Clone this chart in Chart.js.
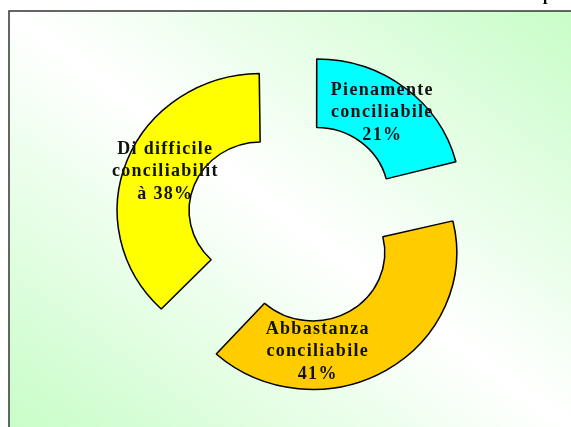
<!DOCTYPE html>
<html>
<head>
<meta charset="utf-8">
<script src="https://cdn.jsdelivr.net/npm/chart.js@4.4.0/dist/chart.umd.min.js"></script>
<style>
  html, body { margin: 0; padding: 0; background: #fff; }
  canvas { display: block; }
</style>
</head>
<body>
<canvas id="ciambella" width="571" height="427"></canvas>
<script>
// dati del grafico (percentuali)
const categorie = ["Pienamente conciliabile", "Abbastanza conciliabile", "Di difficile conciliabilità"];
const percentuali = [21, 41, 38];
const colori = ["#00ffff", "#ffcc00", "#ffff00"];
// testo delle etichette, spezzato come nell'originale ({v} = valore)
const righeEtichette = [
  ["Pienamente", "conciliabile", "{v}%"],
  ["Abbastanza", "conciliabile", "{v}%"],
  ["Di difficile", "conciliabilit", "à {v}%"],
];

const ESPLOSO = 35; // spostamento delle fette in px
const RAGGIO = 140;
const SCALA = [1.028, 0.978]; // la ciambella originale è un po' ellittica

// sfondo con gradiente diagonale e cornice
const sfondo = {
  id: "sfondo",
  beforeDraw(chart) {
    const ctx = chart.ctx;
    const x0 = 9, y0 = 11, w = chart.width - x0, h = chart.height - y0;
    ctx.save();
    ctx.fillStyle = "#ffffff";
    ctx.fillRect(0, 0, chart.width, chart.height);
    ctx.save();
    ctx.translate(x0, y0);
    ctx.scale(w, h);
    const g = ctx.createLinearGradient(1, 0, 0, 1);
    g.addColorStop(0, "#c8fdc8");
    g.addColorStop(0.5, "#ffffff");
    g.addColorStop(1, "#c8fdc8");
    ctx.fillStyle = g;
    ctx.fillRect(0, 0, 1, 1);
    ctx.restore();
    ctx.strokeStyle = "#333";
    ctx.lineWidth = 1.5;
    ctx.beginPath();
    ctx.moveTo(x0, chart.height);
    ctx.lineTo(x0, y0);
    ctx.lineTo(chart.width, y0);
    ctx.stroke();
    // titolo tagliato in alto
    ctx.fillStyle = "#000";
    ctx.font = "bold 16px 'Liberation Serif', serif";
    ctx.textAlign = "left";
    ctx.textBaseline = "alphabetic";
    ctx.fillText("p", 543, 0);
    ctx.restore();
  }
};

// l'offset di Chart.js ingrandisce alcune fette: lo compenso
const correggiRaggio = {
  id: "correggiRaggio",
  afterDatasetUpdate(chart, args) {
    const meta = chart.getDatasetMeta(args.index);
    meta.data.forEach(arc => {
      const off = (arc.options.offset || 0) / 4;
      const fix = 1 - Math.sin(Math.min(Math.PI, arc.circumference));
      arc.$rMedio = (arc.innerRadius + arc.outerRadius) / 2;
      arc.outerRadius -= off * fix;
      arc.innerRadius -= off * fix;
    });
  },
  beforeDatasetsDraw(chart) {
    const ctx = chart.ctx;
    const a = chart.chartArea;
    const cx = (a.left + a.right) / 2, cy = (a.top + a.bottom) / 2;
    ctx.save();
    ctx.translate(cx, cy);
    ctx.scale(SCALA[0], SCALA[1]);
    ctx.translate(-cx, -cy);
  },
  afterDatasetsDraw(chart) {
    chart.ctx.restore();
  }
};

// etichette dentro le fette
const spostamenti = [[1, 0], [-49, 8], [0, 0]];
const etichette = {
  id: "etichette",
  afterDatasetsDraw(chart) {
    const ctx = chart.ctx;
    const meta = chart.getDatasetMeta(0);
    ctx.save();
    ctx.font = "bold 18px 'Liberation Serif', 'Times New Roman', serif";
    ctx.letterSpacing = "1.3px";
    ctx.fillStyle = "#111";
    ctx.textAlign = "center";
    ctx.textBaseline = "middle";
    meta.data.forEach((arc, i) => {
      const mid = (arc.startAngle + arc.endAngle) / 2;
      const d = ESPLOSO + arc.$rMedio;
      const x = arc.x + Math.cos(mid) * d + spostamenti[i][0];
      const y = arc.y + Math.sin(mid) * d + spostamenti[i][1];
      const righe = righeEtichette[i].map(r => r.replace("{v}", percentuali[i]));
      righe.forEach((r, k) => {
        ctx.fillText(r, x + 1, y + (k - 1) * 22.5);
      });
    });
    ctx.restore();
  }
};

const contenitore = document.querySelector("#ciambella").getContext("2d");

const grafico = new Chart(contenitore, {
  type: "doughnut",
  data: {
    labels: categorie,
    datasets: [
      {
        data: percentuali,
        backgroundColor: colori,
        borderColor: "#000",
        borderWidth: 1.5,
        borderJoinStyle: "bevel",
        offset: ESPLOSO * 4,
        hoverOffset: 0,
      },
    ],
  },
  options: {
    responsive: false,
    animation: false,
    radius: RAGGIO,
    cutout: "50%",
    layout: { padding: { left: 18, top: 19, right: 0, bottom: 0 } },
    plugins: {
      legend: { display: false },
      tooltip: { enabled: false },
    },
  },
  plugins: [sfondo, correggiRaggio, etichette],
});
</script>
</body>
</html>
